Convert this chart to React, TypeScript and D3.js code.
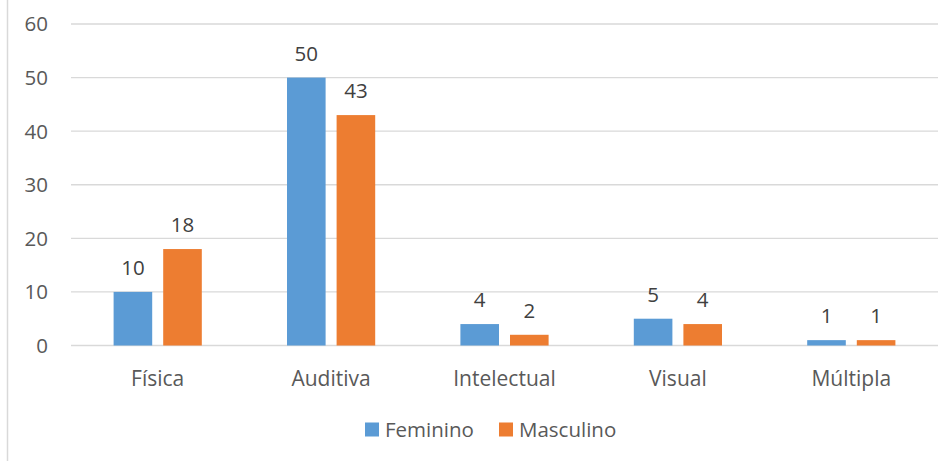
import React from "react";
import * as d3 from "d3";

const categories = ["Física", "Auditiva", "Intelectual", "Visual", "Múltipla"];
const seriesNames = ["Feminino", "Masculino"];
const feminino = [10, 50, 4, 5, 1];
const masculino = [18, 43, 2, 4, 1];
const yTicks = [0, 10, 20, 30, 40, 50, 60];
const colors = ["#5B9BD5", "#ED7D31"];

const W = 950;
const H = 461;
const FONT = "'Open Sans', sans-serif";
const TEXT = "#595959";

export default function App() {
  const x0 = d3.scaleBand().domain(categories).range([71, 938]).paddingInner(0).paddingOuter(0);
  const y = d3.scaleLinear().domain([0, 60]).range([345.5, 24]);
  const series = [feminino, masculino];
  const barW = 38.6;
  const gap = 11;

  return (
    <svg width={W} height={H} style={{ position: "absolute", left: 0, top: 0, background: "#fff" }}>
      <line x1={7.5} x2={7.5} y1={0} y2={H} stroke="#D9D9D9" strokeWidth={1.5} />
      {yTicks.map((t) => (
        <g key={t}>
          <line x1={71} x2={938} y1={y(t)} y2={y(t)} stroke="#D9D9D9" strokeWidth={1.3} />
          <text x={48} y={y(t)} dy="0.36em" textAnchor="end" fontFamily={FONT} fontSize={20.5} fill={TEXT}>
            {t}
          </text>
        </g>
      ))}
      {categories.map((c, i) => {
        const cx = (x0(c) as number) + x0.bandwidth() / 2;
        return (
          <g key={c}>
            {series.map((s, k) => {
              const bx = k === 0 ? cx - gap / 2 - barW : cx + gap / 2;
              const v = s[i];
              return (
                <g key={k}>
                  <rect x={bx} y={y(v)} width={barW} height={y(0) - y(v)} fill={colors[k]} />
                  <text x={bx + barW / 2} y={y(v) - 17} textAnchor="middle" fontFamily={FONT} fontSize={20.5} fill="#404040">
                    {v}
                  </text>
                </g>
              );
            })}
            <text x={cx} y={386} textAnchor="middle" fontFamily={FONT} fontSize={21} fill={TEXT}>
              {c}
            </text>
          </g>
        );
      })}
      {seriesNames.map((n, k) => {
        const lx = k === 0 ? 365 : 499;
        return (
          <g key={n}>
            <rect x={lx} y={422.5} width={14} height={14} fill={colors[k]} />
            <text x={lx + 20} y={437} fontFamily={FONT} fontSize={20.5} fill={TEXT}>
              {n}
            </text>
          </g>
        );
      })}
    </svg>
  );
}
